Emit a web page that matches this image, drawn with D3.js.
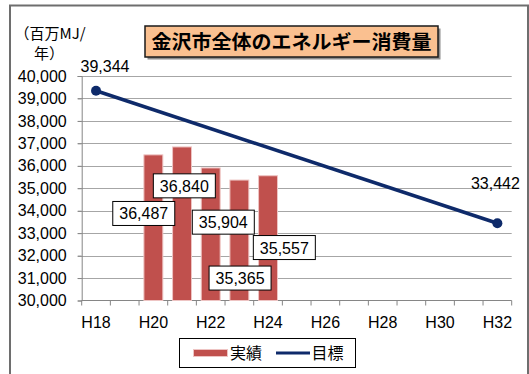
<!DOCTYPE html>
<html>
<head>
<meta charset="utf-8">
<script src="https://cdn.jsdelivr.net/npm/d3@7"></script>
<style>
  html, body { margin: 0; padding: 0; background: #fff; }
  svg { display: block; }
  text { font-family: "Liberation Sans", Arial, "Noto Sans CJK JP", sans-serif; fill: #000; }
  .jp { font-family: "Noto Sans CJK JP", "Liberation Sans", sans-serif; }
</style>
</head>
<body>
<svg id="chart" width="529" height="374"></svg>
<script>
// Fiscal years H18 .. H32
const years = ["H18","H19","H20","H21","H22","H23","H24","H25","H26","H27","H28","H29","H30","H31","H32"];
const tickYears = ["H18","H20","H22","H24","H26","H28","H30","H32"];

// Actual consumption (million MJ / year)
const actualYears = ["H20","H21","H22","H23","H24"];
const actualValues = [36487, 36840, 35904, 35365, 35557];

// Target line
const targetYears = ["H18","H32"];
const targetValues = [39344, 33442];

// Value-axis ticks
const yTicks = [30000,31000,32000,33000,34000,35000,36000,37000,38000,39000,40000];

// Manual placement of the bar data-label boxes (dx, dy from bar top centre)
const barLabelOffsets = [[-9.6, 58.6], [2.3, 38.9], [12.6, 54.2], [0.7, 98], [16.3, 71.8]];
// Placement of the target data labels (dx, dy from the point)
const lineLabelOffsets = [[9, -18.5], [-2, -34]];

const svg = d3.select("#chart");
const fmt = d3.format(",");

const plot = { left: 81.7, right: 511.7, top: 76, bottom: 300.5 };

const x = d3.scaleBand().domain(years).range([plot.left, plot.right]).paddingInner(0).paddingOuter(0);
const y = d3.scaleLinear().domain([30000, 40000]).range([plot.bottom, plot.top]);

// Outer frame
svg.append("rect")
  .attr("x", 10).attr("y", 5.5).attr("width", 518).attr("height", 380)
  .attr("fill", "#fff").attr("stroke", "#6e6e6e").attr("stroke-width", 2);

// Gridlines
svg.append("g").selectAll("line")
  .data(yTicks.filter(d => d !== 30000))
  .join("line")
  .attr("x1", plot.left - 4).attr("x2", plot.right)
  .attr("y1", d => Math.round(y(d)) + 0.5).attr("y2", d => Math.round(y(d)) + 0.5)
  .attr("stroke", "#a6a6a6").attr("stroke-width", 1);

// Y axis
const yAxis = svg.append("g")
  .attr("transform", `translate(${plot.left},0)`)
  .call(d3.axisLeft(y).tickValues(yTicks).tickFormat(fmt).tickSize(4).tickPadding(11));
yAxis.select(".domain").attr("stroke", "#868686");
yAxis.selectAll(".tick line").attr("stroke", "#868686");
yAxis.selectAll(".tick text")
  .attr("font-size", 16).attr("font-family", "Liberation Sans, Arial, sans-serif").attr("fill", "#000");

// X axis (ticks on band boundaries)
const xAxisG = svg.append("g").attr("transform", `translate(0,${plot.bottom})`);
xAxisG.append("line")
  .attr("x1", plot.left).attr("x2", plot.right)
  .attr("y1", 0).attr("y2", 0)
  .attr("stroke", "#868686");
xAxisG.selectAll("line.tk")
  .data(years.concat(["end"]))
  .join("line").attr("class", "tk")
  .attr("x1", (d, i) => plot.left + i * x.bandwidth())
  .attr("x2", (d, i) => plot.left + i * x.bandwidth())
  .attr("y1", 0).attr("y2", 5)
  .attr("stroke", "#868686");
xAxisG.selectAll("text")
  .data(tickYears)
  .join("text")
  .attr("x", d => x(d) + x.bandwidth() / 2)
  .attr("y", 27)
  .attr("text-anchor", "middle")
  .attr("font-size", 16)
  .text(d => d);

// Bars
const barW = x.bandwidth() * 0.66;
svg.append("g").selectAll("rect")
  .data(actualYears.map((k, i) => ({ k, v: actualValues[i] })))
  .join("rect")
  .attr("x", d => x(d.k) + (x.bandwidth() - barW) / 2)
  .attr("y", d => y(d.v))
  .attr("width", barW)
  .attr("height", d => y(30000) - y(d.v))
  .attr("fill", "#c0504d")
  .attr("stroke", "#eec4c3").attr("stroke-width", 1);

// Target line
const cx = k => x(k) + x.bandwidth() / 2;
const tData = targetYears.map((k, i) => ({ k, v: targetValues[i] }));
svg.append("path")
  .datum(tData)
  .attr("d", d3.line().x(d => cx(d.k)).y(d => y(d.v)))
  .attr("fill", "none").attr("stroke", "#0e2a6a").attr("stroke-width", 3.5);
svg.append("g").selectAll("circle")
  .data(tData)
  .join("circle")
  .attr("cx", d => cx(d.k)).attr("cy", d => y(d.v)).attr("r", 5)
  .attr("fill", "#0e2a6a");

// Target labels
svg.append("g").selectAll("text")
  .data(tData)
  .join("text")
  .attr("x", (d, i) => cx(d.k) + lineLabelOffsets[i][0])
  .attr("y", (d, i) => y(d.v) + lineLabelOffsets[i][1])
  .attr("text-anchor", "middle")
  .attr("font-size", 16)
  .text(d => fmt(d.v));

// Bar data labels in boxes
const bl = svg.append("g").selectAll("g")
  .data(actualYears.map((k, i) => ({ k, v: actualValues[i], o: barLabelOffsets[i] })))
  .join("g")
  .attr("transform", d => `translate(${cx(d.k) + d.o[0]},${y(d.v) + d.o[1]})`);
bl.append("rect")
  .attr("x", -31).attr("y", -12).attr("width", 62).attr("height", 24)
  .attr("fill", "#fff").attr("stroke", "#000").attr("stroke-width", 1);
bl.append("text")
  .attr("text-anchor", "middle").attr("y", 6)
  .attr("font-size", 16)
  .text(d => fmt(d.v));

// Unit label
svg.append("text").attr("class", "jp")
  .attr("x", 50).attr("y", 39).attr("text-anchor", "middle").attr("font-size", 15)
  .text("（百万MJ/");
svg.append("text").attr("class", "jp")
  .attr("x", 49).attr("y", 59).attr("text-anchor", "middle").attr("font-size", 15)
  .text("年）");

// Title box
const title = svg.append("g");
title.append("rect")
  .attr("x", 147.5).attr("y", 28.5).attr("width", 293).attr("height", 31)
  .attr("fill", "#8c8c8c");
title.append("rect")
  .attr("x", 145).attr("y", 26).attr("width", 293).attr("height", 31)
  .attr("fill", "#fac090").attr("stroke", "#1a1a1a").attr("stroke-width", 1.5);
title.append("text").attr("class", "jp")
  .attr("x", 291.5).attr("y", 48.5)
  .attr("text-anchor", "middle").attr("font-size", 19.5).attr("font-weight", "bold")
  .attr("textLength", 280).attr("lengthAdjust", "spacingAndGlyphs")
  .text("金沢市全体のエネルギー消費量");

// Legend
const lg = svg.append("g");
lg.append("rect")
  .attr("x", 179.5).attr("y", 338.5).attr("width", 176).attr("height", 29)
  .attr("fill", "#fff").attr("stroke", "#000").attr("stroke-width", 1);
lg.append("rect")
  .attr("x", 193.5).attr("y", 349.5).attr("width", 34).attr("height", 7)
  .attr("fill", "#c0504d").attr("stroke", "#eec4c3").attr("stroke-width", 1);
lg.append("text").attr("class", "jp")
  .attr("x", 230).attr("y", 359).attr("font-size", 16).text("実績");
lg.append("line")
  .attr("x1", 276).attr("x2", 310).attr("y1", 353).attr("y2", 353)
  .attr("stroke", "#0e2a6a").attr("stroke-width", 3);
lg.append("text").attr("class", "jp")
  .attr("x", 311.5).attr("y", 359).attr("font-size", 16).text("目標");
</script>
</body>
</html>
